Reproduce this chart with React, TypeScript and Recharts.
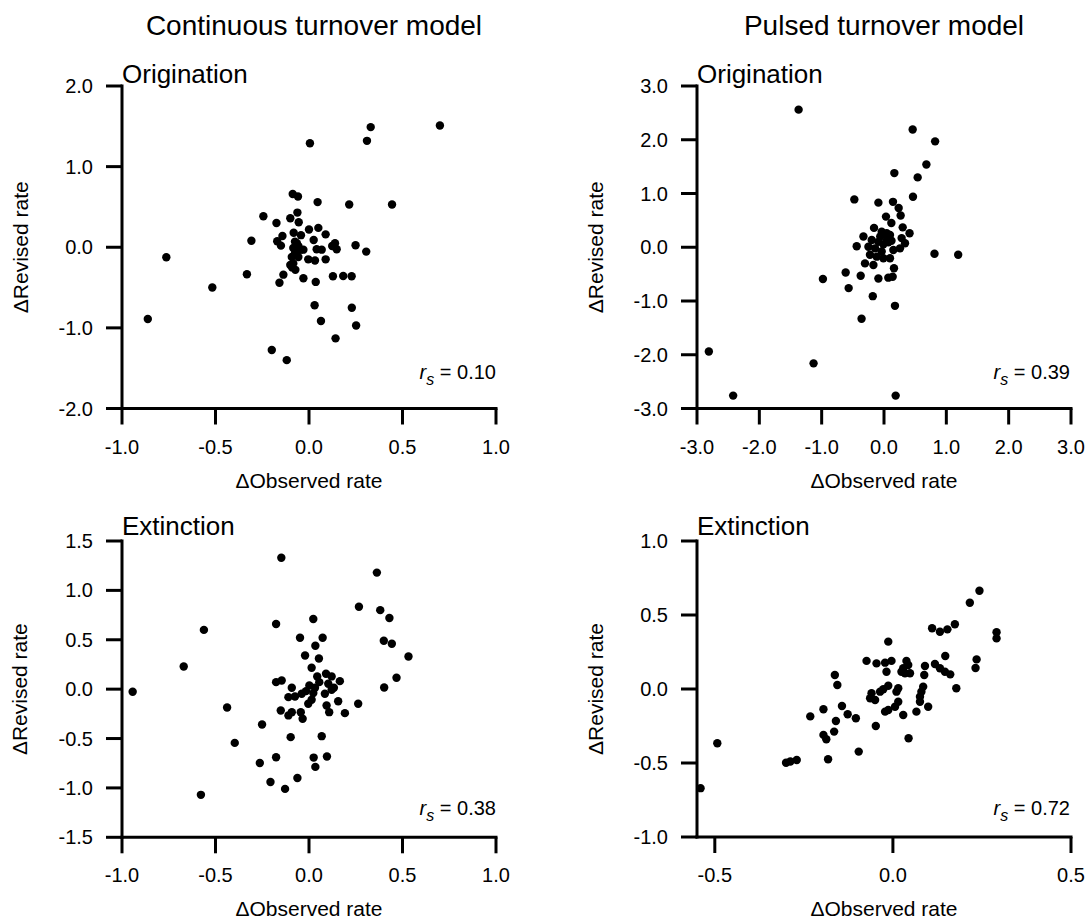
import { ScatterChart, Scatter, XAxis, YAxis, Label } from 'recharts';

// [Δobserved, Δrevised] pairs
const contOrigination: [number, number][] = [
  [0.70, 1.51], [0.33, 1.49], [0.31, 1.32], [0.005, 1.29], [-0.087, 0.66], [-0.059, 0.63],
  [0.046, 0.56], [0.215, 0.53], [0.444, 0.53], [-0.244, 0.385], [-0.174, 0.30], [-0.10, 0.36],
  [-0.062, 0.43], [-0.055, 0.31], [0.0, 0.22], [0.05, 0.24], [0.025, 0.09], [0.089, 0.16],
  [-0.142, 0.14], [-0.082, 0.18], [-0.043, 0.15], [-0.308, 0.08], [-0.17, 0.075], [-0.15, 0.02],
  [-0.075, 0.07], [-0.057, 0.015], [-0.084, -0.01], [-0.043, -0.03], [-0.075, -0.075], [-0.092, -0.12],
  [-0.057, -0.12], [-0.084, -0.2], [-0.10, -0.22], [-0.004, -0.15], [0.032, -0.165], [0.089, -0.15],
  [0.041, -0.025], [0.068, -0.03], [0.124, 0.016], [0.139, 0.05], [0.148, -0.025], [0.249, 0.025],
  [0.306, -0.054], [0.128, -0.36], [0.183, -0.357], [0.228, -0.36], [-0.03, -0.385], [0.036, -0.43],
  [-0.137, -0.34], [-0.158, -0.44], [-0.332, -0.335], [-0.517, -0.50], [-0.763, -0.124], [-0.862, -0.89],
  [0.03, -0.72], [0.064, -0.915], [0.229, -0.75], [0.252, -0.97], [0.142, -1.13], [-0.199, -1.275],
  [-0.119, -1.40], [-0.03, -0.03], [-0.09, -0.25], [-0.073, -0.28], [-0.065, 0.05], [-0.06, -0.04],
];

const pulsedOrigination: [number, number][] = [
  [-1.37, 2.56], [0.46, 2.19], [0.82, 1.97], [0.68, 1.54], [0.54, 1.30], [0.166, 1.38],
  [0.465, 0.94], [-0.476, 0.89], [-0.09, 0.83], [0.144, 0.845], [0.235, 0.73], [0.267, 0.59],
  [0.032, 0.57], [0.118, 0.45], [-0.16, 0.36], [0.30, 0.37], [0.41, 0.26], [-0.33, 0.20],
  [-0.037, 0.29], [0.043, 0.26], [0.096, 0.23], [-0.197, 0.136], [-0.09, 0.10], [-0.01, 0.055],
  [0.069, 0.093], [0.283, 0.17], [0.337, 0.075], [-0.438, 0.02], [-0.25, 0.01], [-0.144, -0.02],
  [-0.037, -0.08], [0.15, -0.05], [0.257, -0.02], [-0.225, -0.14], [-0.117, -0.175], [-0.01, -0.205],
  [0.096, -0.205], [-0.305, -0.30], [-0.17, -0.33], [0.16, -0.39], [-0.374, -0.53], [-0.09, -0.58],
  [0.069, -0.566], [0.139, -0.55], [-0.567, -0.76], [-0.615, -0.47], [-0.98, -0.59], [0.81, -0.12],
  [1.19, -0.14], [-0.18, -0.91], [0.176, -1.09], [-0.36, -1.33], [-1.13, -2.16], [-2.81, -1.94],
  [-2.42, -2.76], [0.187, -2.76], [0.05, 0.15], [-0.06, 0.2], [0.12, 0.12],
];

const contExtinction: [number, number][] = [
  [-0.148, 1.33], [0.363, 1.18], [0.267, 0.834], [0.381, 0.80], [0.43, 0.72], [0.023, 0.71],
  [-0.176, 0.66], [-0.562, 0.60], [-0.048, 0.52], [0.073, 0.52], [0.034, 0.44], [0.40, 0.49],
  [0.443, 0.46], [-0.021, 0.34], [0.053, 0.31], [0.532, 0.33], [-0.67, 0.23], [0.014, 0.217],
  [0.468, 0.115], [0.402, 0.017], [-0.943, -0.027], [-0.176, 0.071], [-0.146, 0.088], [0.044, 0.129],
  [0.091, 0.156], [0.121, 0.129], [0.165, 0.081], [0.055, 0.071], [0.103, 0.055], [0.133, 0.014],
  [0.002, 0.037], [0.032, 0.014], [-0.092, 0.014], [-0.016, -0.02], [-0.039, -0.047], [0.023, -0.04],
  [0.085, -0.047], [-0.11, -0.081], [-0.075, -0.074], [0.121, -0.006], [0.014, -0.107], [-0.004, -0.148],
  [0.156, -0.122], [0.094, -0.165], [0.108, -0.233], [0.192, -0.243], [0.263, -0.148], [-0.151, -0.216],
  [-0.092, -0.233], [-0.11, -0.266], [-0.044, -0.233], [-0.034, -0.30], [-0.438, -0.186], [-0.251, -0.358],
  [-0.397, -0.544], [-0.098, -0.486], [0.068, -0.476], [-0.176, -0.69], [-0.263, -0.747], [0.025, -0.693],
  [0.096, -0.682], [0.034, -0.787], [-0.206, -0.94], [-0.062, -0.90], [-0.128, -1.01], [-0.578, -1.07],
];

const pulsedExtinction: [number, number][] = [
  [-0.54, -0.67], [-0.493, -0.367], [-0.30, -0.498], [-0.288, -0.49], [-0.27, -0.48], [-0.232, -0.185],
  [-0.195, -0.137], [-0.195, -0.31], [-0.187, -0.34], [-0.165, -0.288], [-0.16, -0.216], [-0.182, -0.475],
  [-0.163, 0.095], [-0.156, 0.027], [-0.143, -0.115], [-0.127, -0.171], [-0.104, -0.198], [-0.096, -0.423],
  [-0.074, 0.19], [-0.046, 0.173], [-0.022, 0.178], [-0.004, 0.19], [-0.018, 0.117], [-0.013, 0.32],
  [-0.013, 0.022], [-0.027, -0.002], [-0.036, -0.018], [-0.06, -0.029], [-0.064, -0.063], [-0.05, -0.074],
  [0.015, 0.005], [0.01, -0.018], [-0.048, -0.25], [0.015, -0.086], [0.006, -0.12], [-0.013, -0.142],
  [-0.022, -0.153], [0.029, -0.176], [0.044, -0.333], [0.038, 0.19], [0.043, 0.162], [0.029, 0.14],
  [0.034, 0.106], [0.048, 0.106], [0.024, 0.117], [0.066, -0.153], [0.085, 0.016], [0.08, -0.018],
  [0.076, -0.052], [0.076, -0.086], [0.099, -0.12], [0.09, 0.155], [0.088, 0.095], [0.11, 0.41],
  [0.132, 0.387], [0.153, 0.403], [0.174, 0.437], [0.118, 0.169], [0.132, 0.14], [0.146, 0.117],
  [0.161, 0.099], [0.147, 0.223], [0.178, 0.005], [0.216, 0.583], [0.243, 0.664], [0.235, 0.20],
  [0.232, 0.142], [0.291, 0.383], [0.291, 0.342],
];

const wideTicks = [-3, -2, -1, 0, 1, 2, 3];
const unitTicks = [-1, -0.5, 0, 0.5, 1];
const halfTicks = [-1.5, -1, -0.5, 0, 0.5, 1, 1.5];
const twoTicks = [-2, -1, 0, 1, 2];
const extXTicks = [-0.5, 0, 0.5];

const FONT = '"Liberation Sans", Arial, Helvetica, sans-serif';
const AXIS_W = 3;

const fmt = (v: number) => v.toFixed(1);

const xTitle = (props: any) => {
  const vb = props.viewBox;
  return (
    <text x={vb.x + vb.width / 2} y={vb.y + 79} textAnchor="middle" fontSize={21} fontFamily={FONT} fill="#000">
      ΔObserved rate
    </text>
  );
};

const yTitle = (props: any) => {
  const vb = props.viewBox;
  const cx = vb.x - 2;
  const cy = vb.y + vb.height / 2;
  return (
    <text
      x={cx}
      y={cy}
      transform={`rotate(-90, ${cx}, ${cy})`}
      textAnchor="middle"
      dominantBaseline="central"
      fontSize={21}
      fontFamily={FONT}
      fill="#000"
    >
      ΔRevised rate
    </text>
  );
};

const dot = (p: any) => <circle cx={p.cx} cy={p.cy} r={4.2} fill="#000" />;

interface PanelProps {
  left: number;
  top: number;
  plotH: number;
  points: [number, number][];
  xDomain: [number, number];
  xTicks: number[];
  yDomain: [number, number];
  yTicks: number[];
}

function Panel({ left, top, plotH, points, xDomain, xTicks, yDomain, yTicks }: PanelProps) {
  const data = points.map(([x, y]) => ({ x, y }));
  const tickStyle = { fill: '#000', fontSize: 20, fontFamily: FONT };
  const lineStyle = { stroke: '#000', strokeWidth: AXIS_W };
  return (
    <div style={{ position: 'absolute', left: left - 122, top: top - 40 }}>
      <ScatterChart width={510} height={40 + plotH + 90} margin={{ top: 40, right: 14, bottom: 0, left: 22 }}>
        <XAxis
          type="number"
          dataKey="x"
          domain={xDomain}
          ticks={xTicks}
          interval={0}
          allowDataOverflow
          tickFormatter={fmt}
          tick={tickStyle}
          tickLine={lineStyle}
          axisLine={{ ...lineStyle, strokeLinecap: 'square' }}
          tickSize={16}
          tickMargin={15}
          height={90}
        >
          <Label content={xTitle} />
        </XAxis>
        <YAxis
          type="number"
          dataKey="y"
          domain={yDomain}
          ticks={yTicks}
          interval={0}
          allowDataOverflow
          tickFormatter={fmt}
          tick={tickStyle}
          tickLine={lineStyle}
          axisLine={{ ...lineStyle, strokeLinecap: 'square' }}
          tickSize={16}
          tickMargin={13}
          width={100}
        >
          <Label content={yTitle} />
        </YAxis>
        <Scatter data={data} shape={dot} isAnimationActive={false} />
      </ScatterChart>
    </div>
  );
}

function Rs({ x, y, value }: { x: number; y: number; value: string }) {
  return (
    <text x={x} y={y} textAnchor="end" fontSize={20} fontFamily={FONT} fill="#000">
      <tspan fontStyle="italic">r</tspan>
      <tspan fontStyle="italic" fontSize={16} dy={6}>s</tspan>
      <tspan dy={-6}> = {value}</tspan>
    </text>
  );
}

export default function App() {
  return (
    <div style={{ position: 'absolute', left: 0, top: 0, width: 1087, height: 920, background: '#fff', fontFamily: FONT }}>
      <Panel left={122} top={86} plotH={322.5} points={contOrigination}
        xDomain={[-1, 1]} xTicks={unitTicks} yDomain={[-2, 2]} yTicks={twoTicks} />
      <Panel left={696.7} top={86} plotH={322.5} points={pulsedOrigination}
        xDomain={[-3, 3]} xTicks={wideTicks} yDomain={[-3, 3]} yTicks={wideTicks} />
      <Panel left={122} top={540.7} plotH={296.3} points={contExtinction}
        xDomain={[-1, 1]} xTicks={unitTicks} yDomain={[-1.5, 1.5]} yTicks={halfTicks} />
      <Panel left={696.7} top={541} plotH={296} points={pulsedExtinction}
        xDomain={[-0.55, 0.5]} xTicks={extXTicks} yDomain={[-1, 1]} yTicks={unitTicks} />

      <svg width={1087} height={920} style={{ position: 'absolute', left: 0, top: 0, pointerEvents: 'none' }}>
        <text x={314} y={35} textAnchor="middle" fontSize={28} fontFamily={FONT} fill="#000">Continuous turnover model</text>
        <text x={884} y={35} textAnchor="middle" fontSize={28} fontFamily={FONT} fill="#000">Pulsed turnover model</text>
        <text x={122} y={83} fontSize={26} fontFamily={FONT} fill="#000">Origination</text>
        <text x={697} y={83} fontSize={26} fontFamily={FONT} fill="#000">Origination</text>
        <text x={122} y={535} fontSize={26} fontFamily={FONT} fill="#000">Extinction</text>
        <text x={697} y={535} fontSize={26} fontFamily={FONT} fill="#000">Extinction</text>
        <Rs x={496} y={379} value="0.10" />
        <Rs x={1070} y={379} value="0.39" />
        <Rs x={496} y={815} value="0.38" />
        <Rs x={1070} y={815} value="0.72" />
      </svg>
    </div>
  );
}
